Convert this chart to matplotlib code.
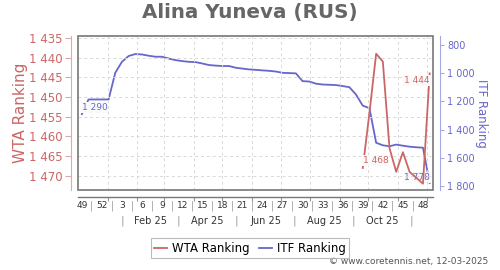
import numpy as np
import pandas as pd
import matplotlib
matplotlib.use('Agg')
import matplotlib.pyplot as plt
import matplotlib.dates as mdates
from matplotlib.patches import Rectangle
from matplotlib.lines import Line2D
from matplotlib.ticker import FixedLocator, FuncFormatter

# weekly dates (Thursday of each ISO week), Dec 2024 -> Dec 2025
weeks = pd.date_range('2024-12-05', periods=53, freq='7D')

itf_rank = [1290, 1186, 1186, 1186, 1186, 997, 919, 878, 864, 867, 876, 883, 883,
            896, 907, 914, 919, 921, 931, 942, 946, 949, 949, 961, 967, 973, 976,
            980, 983, 988, 997, 999, 1001, 1056, 1059, 1074, 1080, 1082, 1084, 1091,
            1099, 1152, 1230, 1248, 1493, 1511, 1518, 1506, 1514, 1521, 1525, 1528, 1778]

# WTA ranking only exists for the last weeks
wta_start = 42
wta_rank = [1468, 1454, 1439, 1441, 1463, 1469, 1464, 1469, 1470.5, 1472, 1444]

week_labels = ['49', '52', '3', '6', '9', '12', '15', '18', '21', '24', '27', '30',
               '33', '36', '39', '42', '45', '48']
month_labels = ['Feb 25', 'Apr 25', 'Jun 25', 'Aug 25', 'Oct 25']
month_seps = ['2025-01-16', '2025-03-16', '2025-05-16', '2025-07-16', '2025-09-15', '2025-11-15']

wta_left = [1435, 1440, 1445, 1450, 1455, 1460, 1465, 1470]
itf_right = [800, 1000, 1200, 1400, 1600, 1800]

RED = '#cc6666'
BLUE = '#6666cc'

x = mdates.date2num(weeks.to_pydatetime())
wta_x = x[wta_start:wta_start + len(wta_rank)]

fig = plt.figure(figsize=(5, 2.7), dpi=100)
ax = fig.add_axes([0.156, 0.2963, 0.71, 0.5704])
ax2 = ax.twinx()
ax.set_zorder(ax2.get_zorder() + 1)
ax.patch.set_visible(False)
ax2.patch.set_facecolor('#fafafa')

ax2.plot(x, itf_rank, color=BLUE, lw=1.3)
ax.plot(wta_x, wta_rank, color=RED, lw=1.3)

ax.set_xlim(mdates.datestr2num('2024-12-01'), mdates.datestr2num('2025-12-07 12:00'))
ax.set_ylim(1473.6, 1434.5)
ax2.set_ylim(1828, 736)

def thousands(v, pos=None):
    return f'{int(v):,}'.replace(',', ' ')

ax.yaxis.set_major_locator(FixedLocator(wta_left))
ax.yaxis.set_major_formatter(FuncFormatter(thousands))
ax2.yaxis.set_major_locator(FixedLocator(itf_right))
ax2.yaxis.set_major_formatter(FuncFormatter(thousands))

month_starts = mdates.date2num(pd.date_range('2025-01-01', '2025-12-01', freq='MS').to_pydatetime())
ax.set_xticks(month_starts)
ax.set_xticklabels([])
ax.grid(True, ls=(0, (3, 3)), color='#d8d8d8', lw=0.7)

for a in (ax, ax2):
    for s in a.spines.values():
        s.set_visible(False)
ax.spines['left'].set_visible(True)
ax.spines['left'].set_position(('outward', 5))
ax.spines['left'].set_color('#e0a8a8')
ax.spines['bottom'].set_visible(True)
ax.spines['bottom'].set_position(('outward', 5))
ax.spines['bottom'].set_color('#777777')
ax.spines['bottom'].set_linewidth(1.0)
ax2.spines['right'].set_visible(True)
ax2.spines['right'].set_position(('outward', 5))
ax2.spines['right'].set_color('#a8a8e0')

ax.tick_params(axis='y', colors='#e0a8a8', labelcolor=RED, labelsize=8.5, length=4, pad=2)
ax2.tick_params(axis='y', colors='#a8a8e0', labelcolor=BLUE, labelsize=7, length=3, pad=2)
ax.tick_params(axis='x', colors='#999999', length=3)

ax.set_ylabel('WTA Ranking', color=RED, fontsize=11)
ax.yaxis.set_label_coords(-0.141, 0.5)
ax2.set_ylabel('ITF Ranking', color=BLUE, fontsize=8.5, rotation=270, va='bottom')
ax2.yaxis.set_label_coords(1.118, 0.5)

ax.add_patch(Rectangle((0, 0), 1, 1, transform=ax.transAxes, fill=False,
                       edgecolor='#777777', lw=1.2, clip_on=False, zorder=5))

# end point labels
box = dict(boxstyle='square,pad=0.1', fc='#fafafa', ec='none')
ax2.annotate(thousands(itf_rank[0]), (x[0], itf_rank[0]), xytext=(0, 3),
             textcoords='offset points', ha='left', va='baseline', fontsize=6.5,
             color=BLUE, bbox=box, zorder=4)
ax2.annotate(thousands(itf_rank[-1]), (x[-1], itf_rank[-1]), xytext=(0, 2.4),
             textcoords='offset points', ha='right', va='baseline', fontsize=6.5,
             color=BLUE, bbox=box, zorder=4)
ax.annotate(thousands(wta_rank[0]), (wta_x[0], wta_rank[0]), xytext=(0, 3.6),
            textcoords='offset points', ha='left', va='baseline', fontsize=6.5,
            color=RED, bbox=box, zorder=4)
ax.annotate(thousands(wta_rank[-1]), (wta_x[-1], wta_rank[-1]), xytext=(0, -2),
            textcoords='offset points', ha='right', va='top', fontsize=6.5,
            color=RED, bbox=box, zorder=4)

# week number row with separators
lab_x = x[::3][:len(week_labels)]
for xi, t in zip(lab_x, week_labels):
    ax.annotate(t, (xi, 0), xycoords=('data', 'axes fraction'), xytext=(0, -11.5),
                textcoords='offset points', ha='center', va='center', fontsize=6.5,
                color='#333333', annotation_clip=False)
for xi in (lab_x[:-1] + lab_x[1:]) / 2:
    ax.annotate('|', (xi, 0), xycoords=('data', 'axes fraction'), xytext=(0, -11.5),
                textcoords='offset points', ha='center', va='center', fontsize=7,
                color='#999999', annotation_clip=False)

# month row
sep_x = mdates.date2num(pd.to_datetime(month_seps).to_pydatetime())
for xi in sep_x:
    ax.annotate('|', (xi, 0), xycoords=('data', 'axes fraction'), xytext=(0, -22.5),
                textcoords='offset points', ha='center', va='center', fontsize=8,
                color='#999999', annotation_clip=False)
for xi, t in zip((sep_x[:-1] + sep_x[1:]) / 2, month_labels):
    ax.annotate(t, (xi, 0), xycoords=('data', 'axes fraction'), xytext=(0, -22.5),
                textcoords='offset points', ha='center', va='center', fontsize=7,
                color='#333333', annotation_clip=False)

fig.text(0.5, 0.955, 'Alina Yuneva (RUS)', ha='center', va='center', fontsize=14.3,
         fontweight='bold', color='#666666')

handles = [Line2D([], [], color=RED, lw=1.3), Line2D([], [], color=BLUE, lw=1.3)]
leg = fig.legend(handles, ['WTA Ranking', 'ITF Ranking'], loc='upper center',
                 bbox_to_anchor=(0.5, 0.14), ncol=2, fontsize=8.5, frameon=True,
                 fancybox=False, edgecolor='#aaaaaa', handlelength=1.1,
                 columnspacing=0.8, handletextpad=0.4, borderpad=0.3)
leg.get_frame().set_linewidth(0.8)

fig.text(0.976, 0.03, '\u00a9 www.coretennis.net, 12-03-2025', ha='right', va='center',
         fontsize=6.5, color='#555555')

fig.savefig('out.png', dpi=100)
